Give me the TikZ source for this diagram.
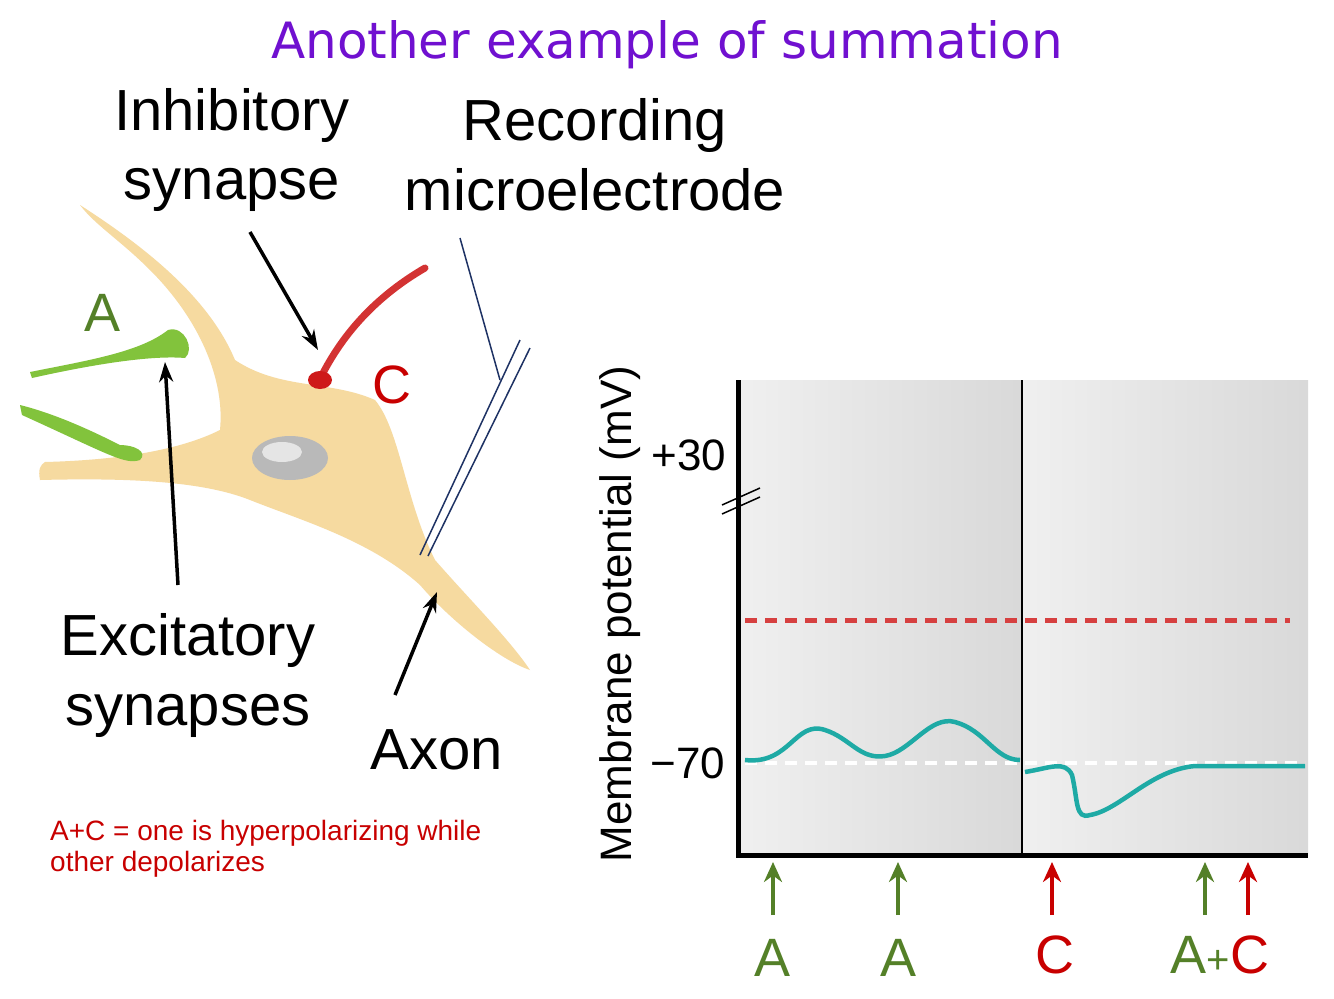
\documentclass[tikz,border=0pt]{standalone}
\usepackage{fontspec}
\setmainfont{Liberation Sans}
\newfontfamily\titlefont{DejaVu Sans}
\usepackage{tikz}
\usetikzlibrary{arrows.meta}
\definecolor{titlecol}{RGB}{112,16,208}
\definecolor{cellcol}{RGB}{246,218,160}
\definecolor{excol}{RGB}{84,128,40}
\definecolor{synexcol}{RGB}{130,195,60}
\definecolor{incol}{RGB}{200,0,0}
\definecolor{tracecol}{RGB}{30,170,165}
\definecolor{wirecol}{RGB}{30,50,100}
\tikzset{
  biglabel/.style={font=\fontsize{58}{70}\selectfont, align=center},
  marklabel/.style={font=\fontsize{54}{60}\selectfont},
  pointer/.style={-{Stealth[length=20pt,width=14pt]}, line width=3.5pt},
  stim/.style={-{Stealth[length=20pt,width=18pt]}, line width=4.5pt},
}
\begin{document}
\begin{tikzpicture}[x=1pt,y=-1pt]
  \useasboundingbox (0,0) rectangle (1334,999);
  \fill[white] (0,0) rectangle (1334,999);
%%
% Title
  \node[font=\titlefont\fontsize{50}{58}\selectfont, text=titlecol] (title) at (667,45) {Another example of summation};
% Neuron
  \fill[cellcol] (80,205) .. controls (150,250) and (210,300) .. (235,360)
    .. controls (280,390) and (330,380) .. (375,400)
    .. controls (400,430) and (405,500) .. (435,560)
    .. controls (470,600) and (510,640) .. (530,670)
    .. controls (500,660) and (450,620) .. (420,585)
    .. controls (370,540) and (300,520) .. (250,500)
    .. controls (200,480) and (120,478) .. (40,480)
    .. controls (38,470) and (40,465) .. (45,462)
    .. controls (120,460) and (180,450) .. (220,430)
    .. controls (225,380) and (200,320) .. (150,270)
    .. controls (120,240) and (95,225) .. (80,205) -- cycle;
  \fill[gray!55] (290,458) ellipse (38 and 22);
  \fill[gray!20] (282,452) ellipse (20 and 10);
% Excitatory synapses
  \fill[synexcol] (30,372) .. controls (90,360) and (140,352) .. (168,330)
    .. controls (185,325) and (195,350) .. (185,358)
    .. controls (150,355) and (90,365) .. (32,378) -- cycle;
  \fill[synexcol] (20,405) .. controls (60,415) and (100,435) .. (120,445)
    .. controls (135,445) and (148,452) .. (140,460)
    .. controls (125,465) and (110,455) .. (22,415) -- cycle;
% Inhibitory synapse
  \draw[incol!80, line width=7pt, line cap=round] (425,268) .. controls (370,300) and (340,340) .. (322,375);
  \fill[incol!90] (320,380) ellipse (12 and 9);
% Electrode
  \draw[wirecol, line width=1.5pt] (460,238) -- (500,380);
  \draw[wirecol, line width=1.5pt] (520,340) -- (420,555);
  \draw[wirecol, line width=1.5pt] (530,348) -- (428,556);
% Labels
  \node[biglabel] (inh) at (232,150) {Inhibitory\\synapse};
  \node[biglabel] (rec) at (595,155) {Recording\\microelectrode};
  \node[biglabel] (exc) at (188,675) {Excitatory\\synapses};
  \node[biglabel] (axon) at (437,750) {Axon};
  \node[marklabel, text=excol] (lblA) at (103,313) {A};
  \node[marklabel, text=incol] (lblC) at (392,385) {C};
  \coordinate (inhTip) at (318,350);
  \coordinate (excTip) at (165,362);
  \coordinate (axTip) at (437,592);
  \draw[pointer] (250,232) -- (inhTip);
  \draw[pointer] (178,585) -- (excTip);
  \draw[pointer] (395,695) -- (axTip);
  \node[anchor=north west, align=left, text=incol, font=\fontsize{28}{31}\selectfont, inner sep=0pt] (note) at (50,820)
    {A+C = one is hyperpolarizing while\\other depolarizes};
% Graph
  \shade[left color=gray!12, right color=gray!30] (738,380) rectangle (1022,855);
  \shade[left color=gray!12, right color=gray!30] (1022,380) rectangle (1308,855);
  \draw[incol!75, line width=5pt, dash pattern=on 12pt off 8pt] (745,620) -- (1290,620);
  \draw[white, line width=4pt, dash pattern=on 12pt off 8pt] (745,763) -- (1305,763);
  \draw[tracecol, line width=4.5pt] (745,760) .. controls (790,765) and (795,720) .. (825,730)
    .. controls (850,738) and (860,760) .. (885,756)
    .. controls (910,752) and (930,715) .. (955,722)
    .. controls (985,730) and (995,760) .. (1020,760);
  \draw[tracecol, line width=4.5pt] (1025,772) .. controls (1050,768) and (1065,760) .. (1072,775)
    .. controls (1078,800) and (1075,820) .. (1090,815)
    .. controls (1120,810) and (1150,770) .. (1195,766) -- (1305,766);
  \draw[line width=1.8pt] (1022,380) -- (1022,855);
  \draw[line width=5pt] (738,380) -- (738,855) -- (1308,855);
  \draw[line width=1.5pt] (722,505) -- (760,488);
  \draw[line width=1.5pt] (722,514) -- (760,497);
  \node[font=\fontsize{44}{50}\selectfont] (p30) at (689,455) {+30};
  \node[font=\fontsize{44}{50}\selectfont] (m70) at (688,763) {\textminus70};
  \node[rotate=90, font=\fontsize{44}{50}\selectfont] (ylab) at (620,614) {Membrane potential (mV)};
% Stimuli
  \draw[stim, excol] (773,915) -- (773,862);
  \draw[stim, excol] (898,915) -- (898,862);
  \draw[stim, incol] (1052,915) -- (1052,862);
  \draw[stim, excol] (1205,915) -- (1205,862);
  \draw[stim, incol] (1248,915) -- (1248,862);
  \node[marklabel, text=excol] (sA1) at (773,958) {A};
  \node[marklabel, text=excol] (sA2) at (898,958) {A};
  \node[marklabel, text=incol] (sC) at (1055,955) {C};
  \node[marklabel] (sAC) at (1220,955) {\textcolor{excol}{A}\textcolor{excol}{\fontsize{40}{44}\selectfont+}\textcolor{incol}{C}};
%
\end{tikzpicture}
\end{document}
